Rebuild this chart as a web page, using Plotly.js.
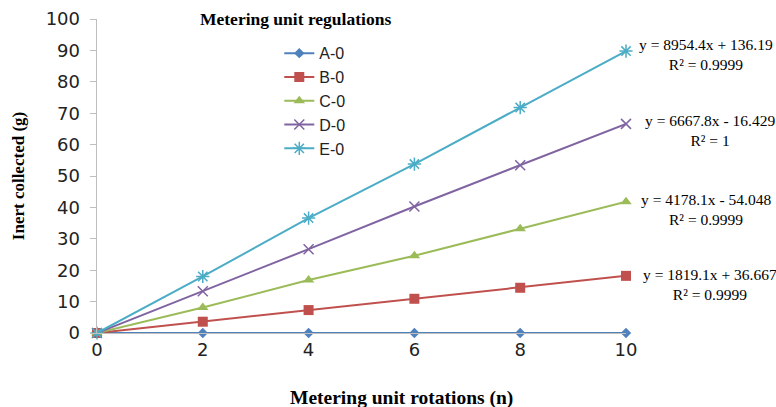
<!DOCTYPE html>
<html><head><meta charset="utf-8">
<script src="https://cdn.plot.ly/plotly-3.0.1.min.js"></script>
<style>body{margin:0;background:#fff}#c{width:776px;height:407px}</style>
</head><body><div id="c"></div>
<script>
const rotations = [0, 2, 4, 6, 8, 10];
const seriesNames = ['A-0', 'B-0', 'C-0', 'D-0', 'E-0'];
const A0 = [0, 0, 0, 0, 0, 0];
const B0 = [0, 3.6, 7.3, 10.9, 14.4, 18.2];
const C0 = [0, 8.1, 16.9, 24.6, 33.2, 41.8];
const D0 = [0, 13.3, 26.7, 40.3, 53.4, 66.6];
const E0 = [0, 18.0, 36.6, 53.8, 71.8, 89.8];
const fitLabels = [
  null,
  'y = 1819.1x + 36.667<br>R² = 0.9999',
  'y = 4178.1x - 54.048<br>R² = 0.9999',
  'y = 6667.8x - 16.429<br>R² = 1',
  'y = 8954.4x + 136.19<br>R² = 0.9999'
];
const yTicks = [0,10,20,30,40,50,60,70,80,90,100];
const xTicks = [0,2,4,6,8,10];

const values = [A0, B0, C0, D0, E0];
const colors = ['#4F81BD', '#C0504D', '#9BBB59', '#8064A2', '#4BACC6'];
const symbols = ['diamond', 'square', 'triangle-up', 'x-thin-open', 'asterisk-open'];
const sizes = [8, 10, 10, 10, 11];
const labelShiftX = [0, 15, 13, 17, 11];
const labelShiftY = [0, -9, -7.5, -6.5, -3.5];

const traces = values.map((v, i) => ({
  x: rotations, y: v, name: seriesNames[i], type: 'scatter', mode: 'lines+markers',
  line: {color: colors[i], width: 2},
  marker: {symbol: symbols[i], size: sizes[i], color: colors[i], line: {color: colors[i], width: (i >= 3 ? 1.5 : 0)}},
  cliponaxis: false
}));
// invisible carrier trace for the label axis
traces.push({x: [0], y: [0], yaxis: 'y2', mode: 'markers', marker: {opacity: 0}, showlegend: false, hoverinfo: 'skip'});

const serif = 'Liberation Serif, Times New Roman, serif';
const annotations = [];
fitLabels.forEach((t, i) => {
  if (!t) return;
  const y = values[i][values[i].length - 1];
  annotations.push({
    x: rotations[rotations.length - 1], y: y, xref: 'x', yref: 'y', text: t,
    showarrow: false, xanchor: 'left', yanchor: 'middle', align: 'center',
    xshift: labelShiftX[i], yshift: labelShiftY[i],
    font: {family: serif, size: 15.5, color: '#000'}
  });
});
annotations.push({
  x: 0.394, y: 1.0, xref: 'paper', yref: 'paper', text: '<b>Metering unit regulations</b>',
  showarrow: false, xanchor: 'center', yanchor: 'middle',
  font: {family: serif, size: 17.5, color: '#000'}
});
annotations.push({
  x: 0.588, y: 0, xref: 'paper', yref: 'paper', yshift: -65,
  text: '<b>Metering unit rotations (n)</b>',
  showarrow: false, xanchor: 'center', yanchor: 'middle',
  font: {family: serif, size: 19.5, color: '#000'}
});

const layout = {
  width: 776, height: 407,
  margin: {l: 80, r: 150, t: 19, b: 74},
  paper_bgcolor: '#fff', plot_bgcolor: 'rgba(0,0,0,0)',
  showlegend: true,
  legend: {x: 0.365, y: 0.945, xanchor: 'left', yanchor: 'top', bgcolor: 'rgba(0,0,0,0)',
           font: {family: 'Liberation Sans, Arial, sans-serif', size: 16, color: '#222'},
           tracegroupgap: 0, itemwidth: 30},
  xaxis: {domain: [0.0311, 1], range: [0, 10], tickvals: xTicks, ticks: '', showgrid: false, zeroline: false,
          showline: true, linecolor: '#bfbfbf', linewidth: 1,
          tickfont: {family: 'DejaVu Sans, Verdana, sans-serif', size: 18, color: '#222'}},
  yaxis: {range: [0, 100], tickvals: yTicks, ticks: 'outside', ticklen: 6, tickcolor: '#bfbfbf',
          showgrid: false, zeroline: false, showline: true, linecolor: '#bfbfbf', linewidth: 1,
          showticklabels: false},
  yaxis2: {overlaying: 'y', anchor: 'free', position: 0, side: 'left',
          range: [0, 100], tickvals: yTicks, ticks: '', showgrid: false, zeroline: false, showline: false,
          tickfont: {family: 'DejaVu Sans, Verdana, sans-serif', size: 18, color: '#222'},
          title: {text: '<b>Inert collected (g)</b>', standoff: 15,
                  font: {family: serif, size: 17, color: '#000'}}},
  annotations: annotations
};

Plotly.newPlot('c', traces, layout, {displayModeBar: false, staticPlot: true});
</script></body></html>
